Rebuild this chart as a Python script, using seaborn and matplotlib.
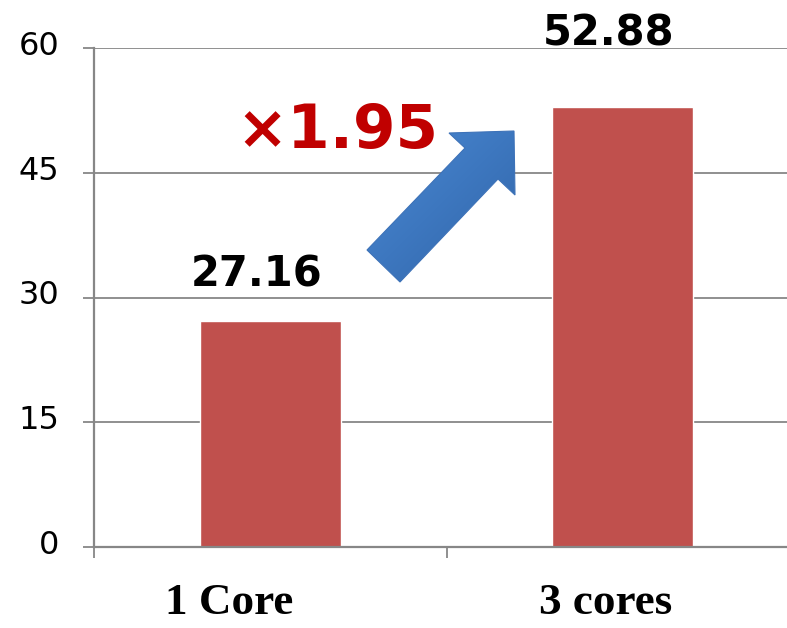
import numpy as np
import matplotlib
matplotlib.use("Agg")
import matplotlib.pyplot as plt
import matplotlib.transforms as mtrans
from matplotlib.patches import Polygon
import seaborn as sns
import pandas as pd

# ---- data ----
categories = ["1 Core", "3 cores"]
throughput = [27.16, 52.88]
y_ticks = [0, 15, 30, 45, 60]
speedup_label = "×1.95"

sns.set_theme(style="white")
plt.rcParams["font.family"] = ["DejaVu Sans"]

W, H, DPI = 787, 628, 100
fig = plt.figure(figsize=(W / DPI, H / DPI), dpi=DPI, facecolor="white")
ax = fig.add_axes([94 / W, 81 / H, 705 / W, 499 / H])

df = pd.DataFrame({"cat": categories, "val": throughput})
sns.barplot(data=df, x="cat", y="val", color="#C0504D", saturation=1,
            width=0.4, ax=ax, zorder=3)

ax.set_xlim(-0.5, 1.5)
ax.set_ylim(0, 60)
ax.set_yticks(y_ticks)
ax.set_xlabel("")
ax.set_ylabel("")

grid_c = "#878787"
for s in ["top", "right"]:
    ax.spines[s].set_visible(False)
for s in ["left", "bottom"]:
    ax.spines[s].set_color(grid_c)
    ax.spines[s].set_linewidth(1.6)
    ax.spines[s].set_zorder(4)
ax.yaxis.grid(True, color=grid_c, linewidth=1.3, zorder=0)
ax.set_axisbelow(True)

# y ticks
ax.tick_params(axis="y", which="major", direction="out", length=8, width=1.3,
               color=grid_c, pad=17, labelsize=23, labelcolor="black", left=True)
for lab in ax.get_yticklabels():
    lab.set_transform(lab.get_transform() +
                      mtrans.ScaledTranslation(0, 5 / DPI, fig.dpi_scale_trans))

# x ticks: labels at centers, tick marks at category boundaries
ax.set_xticks([0, 1])
ax.set_xticklabels(categories, fontfamily="Liberation Serif",
                   fontweight="bold", fontsize=32.5)
ax.set_xticks([-0.5, 0.5, 1.5], minor=True)
ax.tick_params(axis="x", which="major", length=0, pad=26, labelcolor="black")
ax.tick_params(axis="x", which="minor", direction="out", length=8, width=1.3,
               color=grid_c, bottom=True)
xoffs = [-41, -17]
for lab, dx in zip(ax.get_xticklabels(), xoffs):
    lab.set_transform(lab.get_transform() +
                      mtrans.ScaledTranslation(dx / DPI, 0, fig.dpi_scale_trans))

# value labels (gap above bar top in pixels, as placed in the reference)
label_gap_px = [35, 62]
for i, (v, gap) in enumerate(zip(throughput, label_gap_px)):
    ax.annotate(f"{v:.2f}", xy=(i, v), xytext=(-10, gap * 72 / DPI),
                textcoords="offset points", ha="center", va="baseline",
                fontsize=30, fontweight="bold", color="black",
                annotation_clip=False, zorder=6)

# overlay for decorations (pixel coordinates, y downward)
ov = fig.add_axes([0, 0, 1, 1], facecolor="none")
ov.set_xlim(0, W)
ov.set_ylim(H, 0)
ov.axis("off")

arrow_pts = [(367, 250), (400, 282), (498, 179), (515, 195),
             (514, 131), (449, 133), (465, 148)]
poly = Polygon(arrow_pts, closed=True, facecolor="none",
               edgecolor="#3D72B8", linewidth=0.8, zorder=5)
ov.add_patch(poly)
gx, gy = np.meshgrid(np.linspace(0, 1, 100), np.linspace(0, 1, 100))
grad = (gx + gy) / 2
cmap = matplotlib.colors.LinearSegmentedColormap.from_list(
    "bl", ["#4D8BD4", "#3D77BF", "#3063A5"])
im = ov.imshow(grad, extent=(360, 520, 285, 125), cmap=cmap,
               origin="upper", zorder=4, aspect="auto")
im.set_clip_path(poly)

ov.text(236, 148, speedup_label, fontsize=44, fontweight="bold",
        color="#C00000", ha="left", va="baseline", zorder=6)

fig.savefig("out.png", dpi=DPI, facecolor="white")
